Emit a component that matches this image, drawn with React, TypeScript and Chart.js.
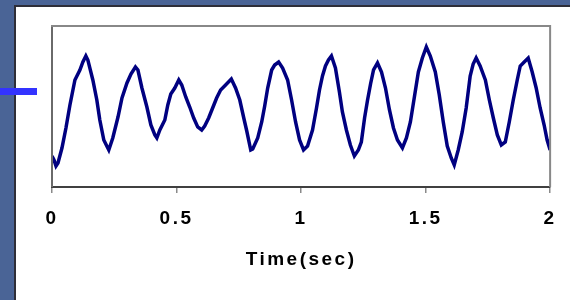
import React, { useEffect, useRef } from "react";
import { Chart, registerables } from "chart.js";

Chart.register(...registerables);

const times = [
  0, 0.008, 0.016, 0.024, 0.04, 0.056, 0.072, 0.092, 0.112, 0.124, 0.136, 0.144,
  0.164, 0.18, 0.192, 0.208, 0.224, 0.228,
  0.244, 0.265, 0.281, 0.301, 0.317, 0.335,
  0.345,
  0.361, 0.381, 0.397, 0.413, 0.421,
  0.433, 0.453, 0.465, 0.477, 0.493, 0.509, 0.521,
  0.537, 0.553, 0.569, 0.585, 0.601, 0.613,
  0.629, 0.645, 0.661, 0.677, 0.693, 0.72,
  0.737, 0.754, 0.77, 0.782, 0.798, 0.806,
  0.826, 0.842, 0.854, 0.866, 0.882, 0.894, 0.91,
  0.926, 0.946, 0.962, 0.978, 0.994, 1.01, 1.026,
  1.046, 1.062, 1.074, 1.086, 1.098, 1.11, 1.122,
  1.138, 1.154, 1.166, 1.182, 1.198, 1.214,
  1.23, 1.242, 1.255, 1.267, 1.279, 1.291, 1.307,
  1.323, 1.339, 1.355, 1.371, 1.387, 1.407,
  1.423, 1.439, 1.455, 1.471, 1.487, 1.503,
  1.519, 1.539, 1.555, 1.571, 1.587, 1.603, 1.615,
  1.631, 1.647, 1.663, 1.679, 1.691, 1.703,
  1.719, 1.74, 1.756, 1.772, 1.788, 1.804, 1.82,
  1.836, 1.852, 1.868, 1.88, 1.896, 1.912,
  1.928, 1.944, 1.96, 1.976, 1.988, 2.0,
];

const values = [
  31, 27, 21, 24, 39, 59, 82, 107, 117, 125, 131, 127,
  107, 87, 67, 47, 39, 37,
  49, 70, 89, 104, 113, 120,
  117,
  99, 80, 62, 52, 49,
  57, 67, 82, 93, 99, 107, 102,
  90, 80, 69, 60, 57, 61,
  69, 79, 89, 97, 101, 108,
  99, 87, 69, 56, 37, 38,
  49, 65, 81, 99, 117, 122, 125,
  119, 107, 87, 65, 47, 37, 41,
  57, 79, 97, 111, 121, 127, 131,
  119, 95, 75, 57, 42, 31,
  37, 45, 69, 87, 103, 117, 124,
  115, 99, 77, 59, 47, 39,
  49, 65, 90, 115, 129, 140,
  131, 115, 92, 65, 41, 29, 22,
  37, 55, 79, 111, 123, 129,
  121, 107, 87, 69, 52, 42, 45,
  65, 87, 107, 121, 125, 129,
  115, 99, 79, 62, 47, 37,
];

const xTickLabels = ["0", "0.5", "1", "1.5", "2"];
const xTickStep = 0.5;
const xMin = 0;
const xMax = 2;
const xTitle = "Time(sec)";

const boxPlugin = {
  id: "boxPlugin",
  beforeDraw(chart: any) {
    (chart.ctx as any).letterSpacing = "2.5px";
  },
  afterDraw(chart: any) {
    const { ctx, chartArea } = chart;
    const { left, right, top, bottom } = chartArea;
    ctx.save();
    ctx.lineWidth = 2;
    ctx.strokeStyle = "#6a6a6a";
    ctx.beginPath();
    ctx.moveTo(left, bottom);
    ctx.lineTo(left, top);
    ctx.stroke();
    ctx.strokeStyle = "#888888";
    ctx.beginPath();
    ctx.moveTo(left - 1, top);
    ctx.lineTo(right, top);
    ctx.lineTo(right, bottom);
    ctx.stroke();
    ctx.restore();
  },
};

export default function App() {
  const ref = useRef<HTMLCanvasElement | null>(null);

  useEffect(() => {
    if (!ref.current) return;
    const data = times.map((t, i) => ({ x: t, y: values[i] }));
    const chart = new Chart(ref.current, {
      type: "line",
      data: {
        datasets: [
          {
            data,
            borderColor: "#000080",
            borderWidth: 3.5,
            pointRadius: 0,
            tension: 0,
            fill: false,
          },
        ],
      },
      options: {
        animation: false,
        responsive: false,
        maintainAspectRatio: false,
        events: [],
        layout: { padding: { left: 52, top: 26, right: 15, bottom: 28.6 } },
        plugins: { legend: { display: false }, tooltip: { enabled: false } },
        scales: {
          x: {
            type: "linear",
            min: xMin,
            max: xMax,
            ticks: {
              stepSize: xTickStep,
              color: "#000000",
              padding: 14.6,
              maxRotation: 0,
              autoSkip: false,
              callback: (_v: any, i: number) => xTickLabels[i] ?? "",
              font: { family: "'Liberation Sans', Arial, sans-serif", size: 19, weight: "bold" },
            },
            grid: {
              display: true,
              drawOnChartArea: false,
              drawTicks: true,
              tickLength: 6,
              color: "#8a8a8a",
              lineWidth: 1.5,
            },
            border: { display: true, color: "#404040", width: 2 },
            title: {
              display: true,
              text: xTitle,
              color: "#000000",
              padding: { top: 3.6, bottom: 0 },
              font: { family: "'Liberation Sans', Arial, sans-serif", size: 19, weight: "bold" },
            },
          },
          y: {
            type: "linear",
            min: 0,
            max: 161,
            display: false,
          },
        },
      },
      plugins: [boxPlugin],
    });
    return () => chart.destroy();
  }, []);

  return (
    <div
      style={{
        position: "fixed",
        left: 0,
        top: 0,
        width: 570,
        height: 300,
        background: "#4a6496",
        overflow: "hidden",
      }}
    >
      <div
        style={{
          position: "absolute",
          left: 14,
          top: 5,
          right: 0,
          bottom: 0,
          background: "#ffffff",
          borderLeft: "2px solid #2e2e38",
          borderTop: "2px solid #2e2e38",
        }}
      />
      <div
        style={{
          position: "absolute",
          left: 0,
          top: 88,
          width: 37,
          height: 7,
          background: "#3333ff",
        }}
      />
      <canvas
        ref={ref}
        width={570}
        height={300}
        style={{ position: "absolute", left: 0, top: 0, width: 570, height: 300 }}
      />
    </div>
  );
}
